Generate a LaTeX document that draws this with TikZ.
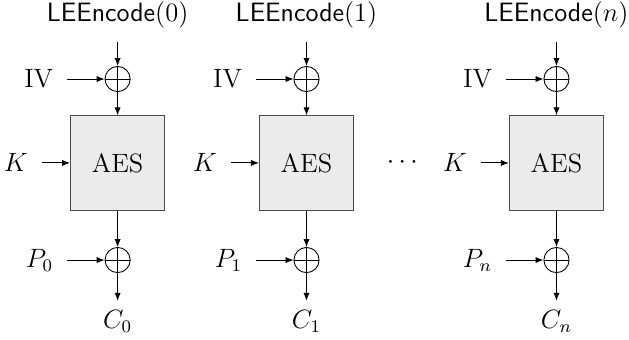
\documentclass[tikz,border=0pt,12pt]{standalone}
\usepackage{amsmath, amssymb}
\usepackage{tikz}
\usetikzlibrary{arrows.meta, positioning, calc}

\begin{document}
\begin{tikzpicture}[
  >={Latex[length=3.6pt,width=2.8pt]},
  aesbox/.style={draw=black!70, fill=black!8, minimum size=1.5cm, inner sep=0pt},
  xorop/.style={draw, circle, minimum size=0.4cm, inner sep=0pt,
    path picture={\draw (path picture bounding box.north) -- (path picture bounding box.south)
      (path picture bounding box.west) -- (path picture bounding box.east);}},
  inlbl/.style={inner sep=6pt}
  ]
  \useasboundingbox (0,0) rectangle (10,-5.39);
  % Block 0
  \node[xorop] (xi0) at (1.87,-1.256) {};
  \node[aesbox] (aes0) at (1.87,-2.59) {AES};
  \node[xorop] (xo0) at (1.87,-4.134) {};
  \node[inlbl, above=0.38cm of xi0] (enc0) {$\textsf{LEEncode}(0)$};
  \node[inlbl, left=0.6cm of xi0] (iv0) {IV};
  \node[inlbl, left=0.45cm of aes0] (k0) {$K$};
  \node[inlbl, left=0.6cm of xo0] (p0) {$P_0$};
  \node[below=0.44cm of xo0] (c0) {$C_0$};
  \draw[->] (enc0) -- (xi0);
  \draw[->] (iv0) -- (xi0);
  \draw[->] (xi0) -- (aes0);
  \draw[->] (k0) -- (aes0);
  \draw[->] (aes0) -- (xo0);
  \draw[->] (p0) -- (xo0);
  \draw[->] (xo0) -- (c0);

  % Block 1
  \node[xorop] (xi1) at (4.873,-1.256) {};
  \node[aesbox] (aes1) at (4.873,-2.59) {AES};
  \node[xorop] (xo1) at (4.873,-4.134) {};
  \node[inlbl, above=0.38cm of xi1] (enc1) {$\textsf{LEEncode}(1)$};
  \node[inlbl, left=0.6cm of xi1] (iv1) {IV};
  \node[inlbl, left=0.45cm of aes1] (k1) {$K$};
  \node[inlbl, left=0.6cm of xo1] (p1) {$P_1$};
  \node[below=0.44cm of xo1] (c1) {$C_1$};
  \draw[->] (enc1) -- (xi1);
  \draw[->] (iv1) -- (xi1);
  \draw[->] (xi1) -- (aes1);
  \draw[->] (k1) -- (aes1);
  \draw[->] (aes1) -- (xo1);
  \draw[->] (p1) -- (xo1);
  \draw[->] (xo1) -- (c1);

  \node (dots) at (6.43,-2.59) {$\cdots$};

  % Block n
  \node[xorop] (xin) at (8.847,-1.256) {};
  \node[aesbox] (aesn) at (8.847,-2.59) {AES};
  \node[xorop] (xon) at (8.847,-4.134) {};
  \node[inlbl, above=0.38cm of xin] (encn) {$\textsf{LEEncode}(n)$};
  \node[inlbl, left=0.6cm of xin] (ivn) {IV};
  \node[inlbl, left=0.45cm of aesn] (kn) {$K$};
  \node[inlbl, left=0.6cm of xon] (pn) {$P_n$};
  \node[below=0.44cm of xon] (cn) {$C_n$};
  \draw[->] (encn) -- (xin);
  \draw[->] (ivn) -- (xin);
  \draw[->] (xin) -- (aesn);
  \draw[->] (kn) -- (aesn);
  \draw[->] (aesn) -- (xon);
  \draw[->] (pn) -- (xon);
  \draw[->] (xon) -- (cn);
\end{tikzpicture}
\end{document}
